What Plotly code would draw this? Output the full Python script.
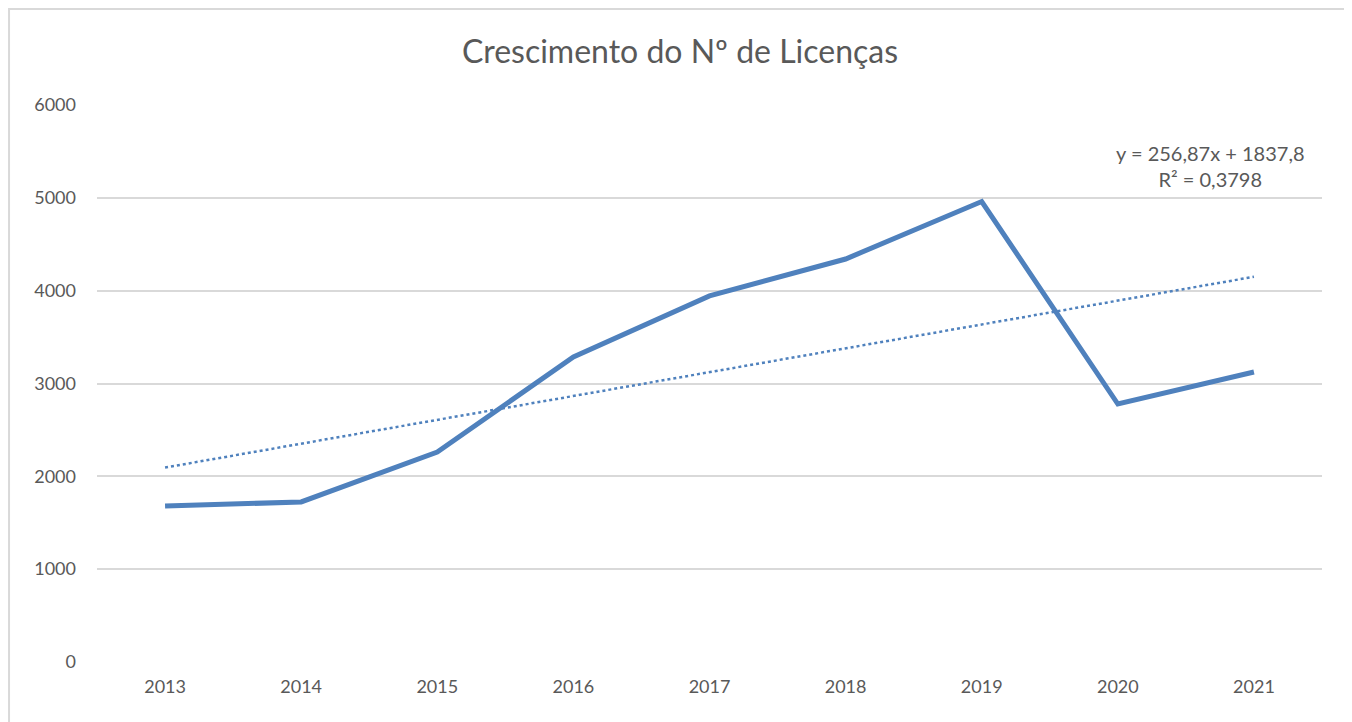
import plotly.graph_objects as go

# Dados
anos = ["2013", "2014", "2015", "2016", "2017", "2018", "2019", "2020", "2021"]
licencas = [1680, 1724, 2262, 3286, 3943, 4341, 4960, 2779, 3124]

# Linha de tendência linear (Excel): y = a*x + b, x = 1..9
tend_a = 256.87
tend_b = 1837.8
tendencia = [tend_a * (i + 1) + tend_b for i in range(len(anos))]

cor_linha = "#4F81BD"
cor_texto = "#595959"
fonte = "Lato, Open Sans, sans-serif"

fig = go.Figure()

# Série principal
fig.add_trace(go.Scatter(
    x=anos,
    y=licencas,
    mode="lines",
    line=dict(color=cor_linha, width=5),
    name="Licenças",
))

# Linha de tendência pontilhada
fig.add_trace(go.Scatter(
    x=anos,
    y=tendencia,
    mode="lines",
    line=dict(color=cor_linha, width=2.5, dash="dot"),
    name="Tendência",
))

fig.add_annotation(
    x=1.0, xref="paper", xanchor="right",
    y=5338, yref="y", yanchor="middle",
    text="y = 256,87x + 1837,8<br>R² = 0,3798",
    showarrow=False, align="center",
    font=dict(family=fonte, size=20, color=cor_texto),
    xshift=-15,
)

# Moldura do gráfico
fig.add_shape(
    type="rect", xref="paper", yref="paper",
    x0=-0.0718, x1=1.0220, y0=-0.2, y1=1.1724,
    line=dict(color="#D9D9D9", width=2),
    layer="above",
)

fig.update_layout(
    width=1344, height=714,
    margin=dict(l=89, r=30, t=97, b=60),
    paper_bgcolor="white",
    plot_bgcolor="white",
    showlegend=False,
    title=dict(
        text="Crescimento do Nº de Licenças",
        x=0.5, xanchor="center", y=0.938, yanchor="middle",
        font=dict(family=fonte, size=32, color=cor_texto),
    ),
    font=dict(family=fonte, size=18, color=cor_texto),
)

fig.update_xaxes(
    type="category",
    range=[-0.5, 8.5],
    showgrid=False,
    showline=False,
    ticks="",
    ticklabelstandoff=12,
    tickfont=dict(family=fonte, size=18, color=cor_texto),
)

fig.update_yaxes(
    range=[0, 6000],
    tickvals=[0, 1000, 2000, 3000, 4000, 5000, 6000],
    showgrid=True,
    gridcolor="#D9D9D9",
    gridwidth=2,
    zeroline=False,
    showline=False,
    ticks="",
    ticklabelstandoff=20,
    tickfont=dict(family=fonte, size=18, color=cor_texto),
)

fig.write_html("out.html")
